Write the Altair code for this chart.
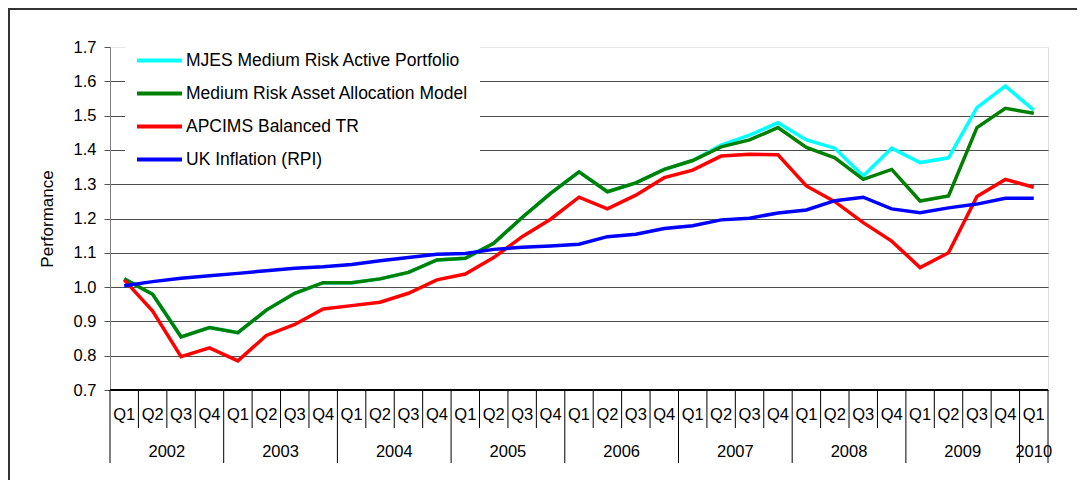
import altair as alt
import pandas as pd

# ---- data ----
series_names = [
    "MJES Medium Risk Active Portfolio",
    "Medium Risk Asset Allocation Model",
    "APCIMS Balanced TR",
    "UK Inflation (RPI)",
]
series_colors = ["#00ffff", "#008000", "#ff0000", "#0000ff"]

quarter_labels = ["Q1", "Q2", "Q3", "Q4"] * 8 + ["Q1"]
year_labels = ["2002", "2003", "2004", "2005", "2006", "2007", "2008", "2009", "2010"]
year_quarters = [4, 4, 4, 4, 4, 4, 4, 4, 1]

mjes = [1.024, 0.979, 0.855, 0.882, 0.867, 0.933, 0.982, 1.013, 1.013, 1.024, 1.043,
        1.079, 1.084, 1.128, 1.203, 1.273, 1.336, 1.278, 1.304, 1.343, 1.369, 1.414,
        1.443, 1.479, 1.429, 1.405, 1.324, 1.405, 1.363, 1.377, 1.523, 1.586, 1.516]
model = [1.024, 0.979, 0.855, 0.882, 0.867, 0.933, 0.982, 1.013, 1.013, 1.024, 1.043,
         1.079, 1.084, 1.128, 1.203, 1.273, 1.336, 1.278, 1.304, 1.343, 1.369, 1.409,
         1.429, 1.465, 1.407, 1.377, 1.314, 1.343, 1.251, 1.266, 1.465, 1.521, 1.507]
apcims = [1.021, 0.930, 0.797, 0.823, 0.785, 0.859, 0.891, 0.936, 0.946, 0.956, 0.982,
          1.021, 1.038, 1.086, 1.147, 1.198, 1.262, 1.228, 1.268, 1.319, 1.341, 1.382,
          1.387, 1.386, 1.295, 1.249, 1.188, 1.134, 1.057, 1.100, 1.264, 1.314, 1.291]
rpi = [1.004, 1.016, 1.026, 1.033, 1.040, 1.048, 1.055, 1.059, 1.066, 1.077, 1.086,
       1.096, 1.098, 1.110, 1.116, 1.120, 1.125, 1.147, 1.154, 1.171, 1.179, 1.196,
       1.201, 1.216, 1.225, 1.252, 1.262, 1.228, 1.217, 1.231, 1.242, 1.259, 1.259]

y_ticks = [0.7, 0.8, 0.9, 1.0, 1.1, 1.2, 1.3, 1.4, 1.5, 1.6, 1.7]

# ---- tables ----
n = len(quarter_labels)
rows = []
for name, vals in zip(series_names, [mjes, model, apcims, rpi]):
    for i, v in enumerate(vals):
        rows.append({"series": name, "pos": i + 0.5, "value": v})
df = pd.DataFrame(rows)

qdf = pd.DataFrame({"pos": [i + 0.5 for i in range(n)], "label": quarter_labels})

year_start = []
s = 0
for q in year_quarters:
    year_start.append(s)
    s += q
ydf = pd.DataFrame({
    "pos": [st + q / 2 for st, q in zip(year_start, year_quarters)],
    "label": year_labels,
})
long_bounds = set(year_start) | {n}
sep_short = pd.DataFrame({"pos": [k for k in range(n + 1) if k not in long_bounds]})
sep_long = pd.DataFrame({"pos": sorted(long_bounds)})

W, H = 938, 343
FONT = "Liberation Sans"

xscale = alt.Scale(domain=[0, n], nice=False, zero=False)
yscale = alt.Scale(domain=[0.7, 1.7], nice=False, zero=False)
color_scale = alt.Scale(domain=series_names, range=series_colors)

legend = alt.Legend(
    orient="none", legendX=15, legendY=-21, title=None,
    symbolType="stroke", symbolStrokeWidth=4, symbolSize=2025,
    labelFontSize=17.5, labelFont=FONT, labelColor="black", labelLimit=400,
    fillColor="white", padding=10, rowPadding=0, labelOffset=2,
)

layers = []
for k, name in enumerate(series_names):
    layers.append(
        alt.Chart(df).transform_filter(alt.datum.series == name).mark_line(strokeWidth=3.5).encode(
            x=alt.X("pos:Q", scale=xscale, axis=None),
            y=alt.Y("value:Q", scale=yscale, title="Performance",
                    axis=alt.Axis(values=y_ticks, format=".1f", grid=True,
                                  gridColor=alt.condition("datum.value >= 1.69", alt.value("#e8e8e8"), alt.value("#4d4d4d")),
                                  gridWidth=1, tickSize=6, tickColor="#555", domainColor="#808080",
                                  labelFontSize=16.5, labelFont=FONT, labelColor="black", labelPadding=8,
                                  titleFontSize=17, titleFont=FONT, titleFontWeight="normal", titleColor="black",
                                  titlePadding=17)),
            color=alt.Color("series:N", scale=color_scale, sort=series_names, legend=legend),
        )
    )

xaxis_line = alt.Chart(qdf).mark_rule(color="black", strokeWidth=1).encode(
    x=alt.value(0), x2=alt.value(W), y=alt.value(H))

short_rules = alt.Chart(sep_short).mark_rule(color="black", strokeWidth=1).encode(
    x=alt.X("pos:Q", scale=xscale), y=alt.value(H), y2=alt.value(H + 38))
long_rules = alt.Chart(sep_long).mark_rule(color="black", strokeWidth=1).encode(
    x=alt.X("pos:Q", scale=xscale), y=alt.value(H), y2=alt.value(H + 73))

q_text = alt.Chart(qdf).mark_text(fontSize=16.5, font=FONT, color="black", baseline="middle").encode(
    x=alt.X("pos:Q", scale=xscale), y=alt.value(H + 25), text="label:N")
y_text = alt.Chart(ydf).mark_text(fontSize=16.5, font=FONT, color="black", baseline="middle").encode(
    x=alt.X("pos:Q", scale=xscale), y=alt.value(H + 62), text="label:N")

frame_left = alt.Chart(qdf).mark_rule(color="#333", strokeWidth=2).encode(
    x=alt.value(-101), y=alt.value(-39), y2=alt.value(H + 90))
frame_top = alt.Chart(qdf).mark_rule(color="#333", strokeWidth=2).encode(
    x=alt.value(-102), x2=alt.value(W + 29), y=alt.value(-38))

chart = alt.layer(
    *layers, xaxis_line, short_rules, long_rules, q_text, y_text, frame_left, frame_top
).properties(
    width=W, height=H,
    autosize=alt.AutoSizeParams(type="none"),
    padding={"left": 102, "top": 39, "right": 29, "bottom": 90},
).configure_view(stroke=None).configure(font=FONT)

chart.save("out.html", embed_options={"renderer": "svg", "actions": False})
